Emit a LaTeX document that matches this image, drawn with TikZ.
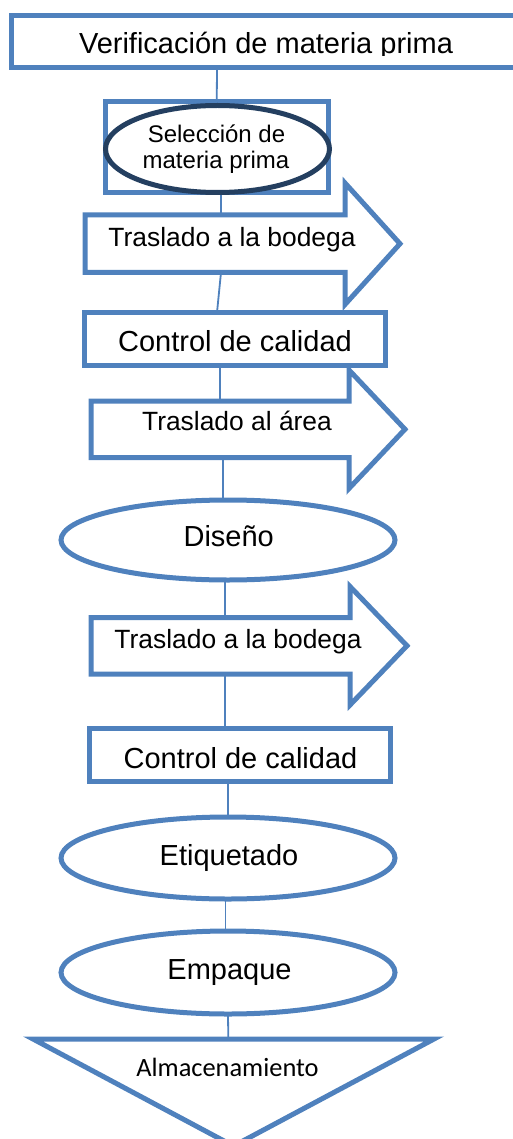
\documentclass[tikz,border=0pt]{standalone}
\usepackage{fontspec}
\setmainfont{Liberation Sans}
\newfontfamily\calfont{Carlito}
\usetikzlibrary{shapes.geometric}
\definecolor{accblue}{HTML}{4F81BD}
\definecolor{flownavy}{HTML}{243F60}
\pgfdeclarelayer{bg}
\pgfdeclarelayer{mid}
\pgfsetlayers{bg,mid,main}
\newcommand\drawflowarrow[3]{%
  \draw[shapeline] (#1.north west) -- (#1.north east) -- ([yshift=#2pt]#1.north east)
    -- ([xshift=#3pt]#1.east) -- ([yshift=-#2pt]#1.south east) -- (#1.south east)
    -- (#1.south west) -- cycle;}
\begin{document}
\begin{tikzpicture}[x=1pt,y=-1pt,
  shapeline/.style={draw=accblue,line width=5pt,fill=white},
  boxnode/.style={shapeline,rectangle,inner sep=0pt,outer sep=0pt},
  ellnode/.style={shapeline,ellipse,inner sep=0pt,outer sep=0pt},
  body/.style={rectangle,inner sep=0pt,outer sep=0pt},
  conn/.style={draw=accblue,line width=1.8pt},
  bigtxt/.style={font=\fontsize{29}{34}\selectfont,inner sep=0pt,anchor=base},
  midtxt/.style={font=\fontsize{26.4}{30}\selectfont,inner sep=0pt,anchor=base},
  smtxt/.style={font=\fontsize{24}{28}\selectfont,inner sep=0pt,anchor=base},
  caltxt/.style={font=\calfont\fontsize{26.4}{30}\selectfont,inner sep=0pt,anchor=base}]
\useasboundingbox (0,0) rectangle (513,1139);

% shapes
\node[boxnode,minimum width=529pt,minimum height=52.5pt] (ver) at (275.5,41.75) {};
\node[boxnode,minimum width=222.5pt,minimum height=90.5pt] (sel) at (216.75,147.25) {};
\node[ellnode,draw=flownavy,minimum width=224pt,minimum height=87pt] (selell) at (217.5,149) {};
\node[body,minimum width=260pt,minimum height=57.5pt] (a1) at (215,243.75) {};
\node[boxnode,minimum width=301pt,minimum height=52.5pt] (c1) at (234.5,338.75) {};
\node[body,minimum width=258pt,minimum height=56.5pt] (a2) at (220,429.25) {};
\node[ellnode,minimum width=334pt,minimum height=80pt] (dis) at (228,540) {};
\node[body,minimum width=259pt,minimum height=56.5pt] (a3) at (220.5,645.75) {};
\node[boxnode,minimum width=301pt,minimum height=53.5pt] (c2) at (240,754.75) {};
\node[ellnode,minimum width=334pt,minimum height=82pt] (eti) at (228,858) {};
\node[ellnode,minimum width=334pt,minimum height=83pt] (emp) at (228,972.5) {};
\coordinate (tritop) at (228.3,1039);

\begin{pgfonlayer}{mid}
  \drawflowarrow{a1}{32}{55}
  \drawflowarrow{a2}{31}{56}
  \drawflowarrow{a3}{31}{57}
  \draw[shapeline] (33,1039) -- (434,1039) -- (233.5,1146) -- cycle;
\end{pgfonlayer}

% connectors
\begin{pgfonlayer}{bg}
  \draw[conn] ([xshift=-58.5pt]ver.south) -- (sel.north);
  \draw[conn] ([xshift=3.5pt]selell.south) -- ([xshift=6pt]a1.north);
  \draw[conn] ([xshift=6pt]a1.south) -- ([xshift=-17.5pt]c1.north);
  \draw[conn] ([xshift=-14.5pt]c1.south) -- (a2.north);
  \draw[conn] ([xshift=3pt]a2.south) -- ([xshift=-5pt]dis.north);
  \draw[conn] ([xshift=-3pt]dis.south) -- ([xshift=4.5pt]a3.north);
  \draw[conn] ([xshift=4.5pt]a3.south) -- ([xshift=-15pt]c2.north);
  \draw[conn] ([xshift=-12pt]c2.south) -- (eti.north);
  \draw[conn] ([xshift=-2.5pt]eti.south) -- ([xshift=-2.5pt]emp.north);
  \draw[conn] (emp.south) -- (tritop);
\end{pgfonlayer}

% texts
\begin{scope}
  \clip (0,0) rectangle (513,55.5);
  \node[bigtxt] (vert) at (266,53.5) {Verificación de materia prima};
\end{scope}
\node[smtxt] (selt1) at (216.5,143) {Selección de};
\node[smtxt] (selt2) at (216,169) {materia prima};
\node[midtxt] (a1t) at (232,247) {Traslado a la bodega};
\node[bigtxt] (c1t) at (235,351) {Control de calidad};
\node[midtxt] (a2t) at (237,430) {Traslado al área};
\node[bigtxt] (dist) at (228.7,546) {Diseño};
\node[midtxt] (a3t) at (238,648) {Traslado a la bodega};
\node[bigtxt] (c2t) at (240.5,768) {Control de calidad};
\node[bigtxt] (etit) at (229,865) {Etiquetado};
\node[bigtxt] (empt) at (229.5,979) {Empaque};
\node[caltxt] (almt) at (227.5,1076) {Almacenamiento};
\end{tikzpicture}
\end{document}
